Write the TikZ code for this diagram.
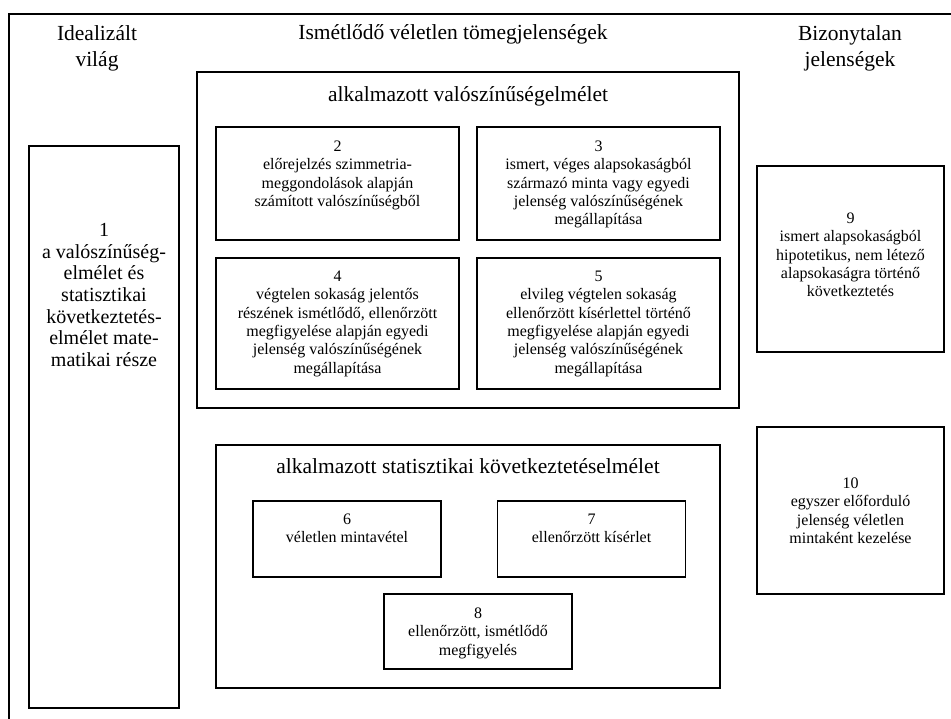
\documentclass[tikz,border=0pt]{standalone}
\usepackage{fontspec}
\setmainfont{Liberation Serif}
\begin{document}
\begin{tikzpicture}[x=1pt,y=-1pt,
  panel/.style={draw=black,line width=1.6pt,inner sep=0pt,outer sep=0pt},
  head/.style={align=center,inner sep=0pt,anchor=base,font=\fontsize{21.5}{26.5}\selectfont},
  lbl/.style={align=center,inner sep=0pt,anchor=north,font=\fontsize{16}{18.4}\selectfont},
  biglbl/.style={align=center,inner sep=0pt,anchor=north,font=\fontsize{20}{21.7}\selectfont}]
\useasboundingbox (0,0) rectangle (951,719);

% open outer frame (top and left edges only)
\draw[line width=1.6pt] (9,719) -- (9,14) -- (951,14);

% column headings (base anchor sits on the last line)
\node[head] (hL) at (97,67) {Idealizált\\világ};
\node[head] (hM) at (453,40) {Ismétlődő véletlen tömegjelenségek};
\node[head] (hR) at (850,67) {Bizonytalan\\jelenségek};

% left column
\node[panel,minimum width=150pt,minimum height=562pt] (b1) at (104,427) {};
\node[biglbl] (t1) at ([yshift=-77pt]b1.north) {1\\a valószínűség-\\elmélet és\\statisztikai\\következtetés-\\elmélet mate-\\matikai része};

% applied probability theory
\node[panel,minimum width=542pt,minimum height=336pt] (A) at (468,240) {};
\node[head] (tA) at (468,102) {alkalmazott valószínűségelmélet};

\node[panel,minimum width=243pt,minimum height=113pt] (b2) at (337.5,183.5) {};
\node[lbl] (t2) at ([yshift=-13.6pt]b2.north) {2\\előrejelzés szimmetria-\\meggondolások alapján\\számított valószínűségből};

\node[panel,minimum width=243pt,minimum height=113pt] (b3) at (598.5,183.5) {};
\node[lbl] (t3) at ([yshift=-13.6pt]b3.north) {3\\ismert, véges alapsokaságból\\származó minta vagy egyedi\\jelenség valószínűségének\\megállapítása};

\node[panel,minimum width=243pt,minimum height=131pt] (b4) at (337.5,323.5) {};
\node[lbl] (t4) at ([yshift=-12.6pt]b4.north) {4\\végtelen sokaság jelentős\\részének ismétlődő, ellenőrzött\\megfigyelése alapján egyedi\\jelenség valószínűségének\\megállapítása};

\node[panel,minimum width=243pt,minimum height=131pt] (b5) at (598.5,323.5) {};
\node[lbl] (t5) at ([yshift=-12.6pt]b5.north) {5\\elvileg végtelen sokaság\\ellenőrzött kísérlettel történő\\megfigyelése alapján egyedi\\jelenség valószínűségének\\megállapítása};

% applied statistical inference
\node[panel,minimum width=504pt,minimum height=243pt] (B) at (468,566.5) {};
\node[head] (tB) at (468,473) {alkalmazott statisztikai következtetéselmélet};

\node[panel,minimum width=188pt,minimum height=76pt] (b6) at (347,539) {};
\node[lbl] (t6) at ([yshift=-12.6pt]b6.north) {6\\véletlen mintavétel};

\node[panel,minimum width=188pt,minimum height=76pt] (b7) at (591.5,539) {};
\node[lbl] (t7) at ([yshift=-12.6pt]b7.north) {7\\ellenőrzött kísérlet};

\node[panel,minimum width=188pt,minimum height=75pt] (b8) at (478,631.5) {};
\node[lbl] (t8) at ([yshift=-13.6pt]b8.north) {8\\ellenőrzött, ismétlődő\\megfigyelés};

% uncertain phenomena
\node[panel,minimum width=187pt,minimum height=186pt] (b9) at (850.5,259) {};
\node[lbl] (t9) at ([yshift=-46.6pt]b9.north) {9\\ismert alapsokaságból\\hipotetikus, nem létező\\alapsokaságra történő\\következtetés};

\node[panel,minimum width=187pt,minimum height=167pt] (b10) at (850.5,510.5) {};
\node[lbl] (t10) at ([yshift=-50.6pt]b10.north) {10\\egyszer előforduló\\jelenség véletlen\\mintaként kezelése};
\end{tikzpicture}
\end{document}
